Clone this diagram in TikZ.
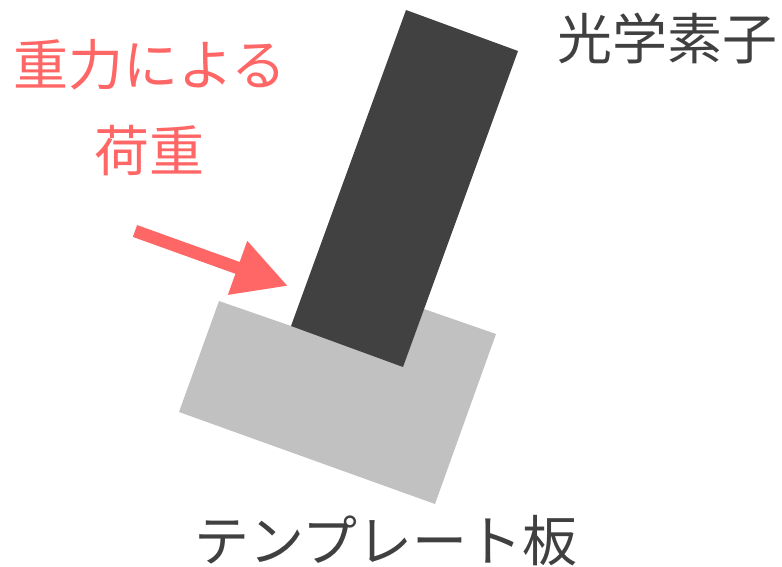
\documentclass[tikz,border=0pt]{standalone}
\usepackage{fontspec}
\newfontfamily\jpfont{Noto Sans CJK JP}
\usetikzlibrary{arrows.meta}
\definecolor{loadred}{HTML}{FF6666}
\definecolor{darkel}{HTML}{414141}
\definecolor{plategray}{HTML}{C1C1C1}
\definecolor{labelgray}{HTML}{404040}
\tikzset{
  lbl/.style={inner sep=0pt, font=\jpfont\fontsize{55}{86}\selectfont, align=center},
  loadarrow/.style={draw=loadred, line width=12.6pt, -{Triangle[length=53.6pt,width=53.5pt]}}
}
\begin{document}
\begin{tikzpicture}[x=1pt,y=-1pt]
\useasboundingbox (0,0) rectangle (782,567);
% template plate
\fill[plategray] (219,301) -- (291,326) -- (424,309) -- (496,334) -- (435,504) -- (179,412) -- cycle;
% optical element
\fill[darkel] (406,10) -- (518,51) -- (403,367) -- (291,326) -- cycle;
% arrow
\coordinate (as) at (135,231);
\coordinate (ae) at (288,286);
\draw[loadarrow] (as) -- (ae);
% labels
\node[lbl, text=loadred] (load) at (150,108) {重力による\\荷重};
\node[lbl, text=labelgray] (elem) at (667,39) {光学素子};
\node[lbl, text=labelgray] (plate) at (386,541) {テンプレート板};
\end{tikzpicture}
\end{document}
